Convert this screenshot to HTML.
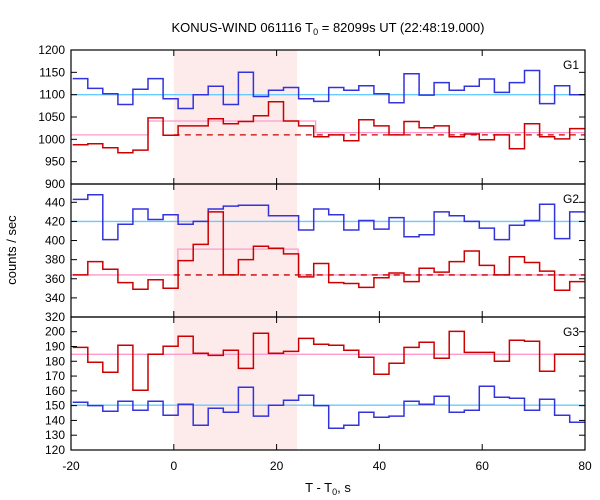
<!DOCTYPE html>
<html><head><meta charset="utf-8"><style>
body{margin:0;background:#fff}
svg{display:block;font-family:"Liberation Sans",sans-serif}
</style></head><body>
<svg id="chart" width="600" height="500" viewBox="0 0 600 500" xmlns="http://www.w3.org/2000/svg">
<text x="328" y="32" font-size="13" text-anchor="middle">KONUS-WIND 061116 T<tspan font-size="9" dy="3">0</tspan><tspan dy="-3"> = 82099s UT (22:48:19.000)</tspan></text>
<text transform="translate(16,250) rotate(-90)" font-size="13" text-anchor="middle">counts / sec</text>
<text x="328" y="492" font-size="13" text-anchor="middle">T - T<tspan font-size="9" dy="3">0</tspan><tspan dy="-3">, s</tspan></text>
</svg>
<script>
const binStart=-19.67, binWidth=2.93;
const xTicks=[-20,0,20,40,60,80];
const g1Blue=[1136,1114,1102,1078,1112,1136,1091,1069,1100,1119,1078,1150,1096,1110,1116,1091,1085,1116,1110,1120,1102,1082,1147,1099,1127,1110,1119,1135,1105,1127,1154,1080,1120,1100];
const g1Red=[988,990,981,970,976,1048,1009,1030,1030,1046,1035,1040,1053,1084,1041,1030,1006,1010,997,1044,1030,1010,1040,1026,1030,1006,1012,999,1010,979,1035,1006,1001,1024];
const g2Blue=[443,448,401,417,433,422,427,417,420,433,436,437,437,426,426,411,433,427,411,421,412,424,404,406,430,426,420,413,401,416,421,438,402,430];
const g2Red=[364,378,370,356,349,359,350,379,396,430,364,380,394,392,386,362,376,356,355,351,361,366,357,371,367,378,389,374,364,383,377,368,348,357];
const g3Red=[189.4,179.3,172.6,190.8,160.4,184.7,190.1,196.9,185.4,184,187.4,175.2,198.9,185.4,186.7,195.5,191.5,190.8,187.4,182.7,171.2,178.6,189.4,192.8,182,200.2,186,186,180,194.2,193.5,173.2,184.7,184.7];
const g3Blue=[152.3,150,146.2,153,146.9,153,143.5,151,136.8,148.3,145.5,162.4,142.9,150.3,153.6,157,150,134.7,136.8,145.5,142.2,142.9,153,151,156.4,145.5,146.9,163.1,155.7,155,146.9,154.3,143.5,138.8];
const g1Ticks=[900,950,1000,1050,1100,1150,1200];
const g2Ticks=[320,340,360,380,400,420,440];
const g3Ticks=[120,130,140,150,160,170,180,190,200];
const bgLevels=[1100,420,150.3];
const pinkG1=[[-20,1010],[-5,1041],[27.6,1015]];
const pinkG2=[[-20,364],[0.8,391],[24.2,364]];
const pinkG3=[[-20,184.7]];
const dashLevels=[1010,364];
const shade=[0,24];

const svg=document.getElementById('chart');
const NS='http://www.w3.org/2000/svg';
const L=71,R=585;
const X=t=>L+(t+20)*(R-L)/100;
function mk(tag,attrs){const e=document.createElementNS(NS,tag);for(const k in attrs)e.setAttribute(k,attrs[k]);svg.appendChild(e);return e;}
const panels=[
 {top:50,bot:184,v0:1200,y0:50,v1:900,y1:184,ticks:g1Ticks,blue:g1Blue,red:g1Red,pink:pinkG1,dash:dashLevels[0],bg:bgLevels[0],label:'G1'},
 {top:184,bot:317,v0:440,y0:202.3,v1:320,y1:317,ticks:g2Ticks,blue:g2Blue,red:g2Red,pink:pinkG2,dash:dashLevels[1],bg:bgLevels[1],label:'G2'},
 {top:317,bot:450,v0:200,y0:331.7,v1:120,y1:450,ticks:g3Ticks,blue:g3Blue,red:g3Red,pink:pinkG3,dash:null,bg:bgLevels[2],label:'G3'}
];
const sh=mk('rect',{x:X(shade[0]),y:50,width:X(shade[1])-X(shade[0]),height:400,fill:'#fdebeb'});


function steps(arr,Y){let d='';arr.forEach((v,i)=>{const a=Math.max(L,X(binStart+i*binWidth)),b=Math.min(R,X(binStart+(i+1)*binWidth));d+=(i?'L':'M')+a.toFixed(1)+','+Y(v).toFixed(1)+'L'+b.toFixed(1)+','+Y(v).toFixed(1);});return d;}
panels.forEach((p,pi)=>{
 const Y=v=>p.y0+(v-p.v0)*(p.y1-p.y0)/(p.v1-p.v0);
 const cl=mk('clipPath',{id:'c'+pi});
 const cr=document.createElementNS(NS,'rect');cr.setAttribute('x',L);cr.setAttribute('y',p.top);cr.setAttribute('width',R-L);cr.setAttribute('height',p.bot-p.top);cl.appendChild(cr);
 const g=mk('g',{'clip-path':'url(#c'+pi+')'});
 
 
 function add(tag,attrs,name){const e=document.createElementNS(NS,tag);for(const k in attrs)e.setAttribute(k,attrs[k]);g.appendChild(e);return e;}
 add('line',{x1:L,x2:R,y1:Y(p.bg),y2:Y(p.bg),stroke:'#66ccff','stroke-width':1.3},'background-level-'+p.label.toLowerCase());
 let pd='';p.pink.forEach((s,i)=>{const nx=i+1<p.pink.length?p.pink[i+1][0]:80;pd+=(i?'L':'M')+X(s[0])+','+Y(s[1])+'L'+X(nx)+','+Y(s[1]);});
 add('path',{d:pd,fill:'none',stroke:'#ff99cc','stroke-width':1.3},'red-fit-level-'+p.label.toLowerCase());
 if(p.dash!==null)add('line',{x1:X(0),x2:R,y1:Y(p.dash),y2:Y(p.dash),stroke:'#cc0000','stroke-width':1.3,'stroke-dasharray':'6,5'},'red-background-dashed-'+p.label.toLowerCase());
 add('path',{d:steps(p.blue,Y),fill:'none',stroke:'#3333dd','stroke-width':1.5},'blue-series-'+p.label.toLowerCase());
 add('path',{d:steps(p.red,Y),fill:'none',stroke:'#cc0000','stroke-width':1.5},'red-series-'+p.label.toLowerCase());
 p.ticks.forEach(v=>{const y=Y(v);
  mk('line',{x1:L,x2:L+6,y1:y,y2:y,stroke:'#000'});mk('line',{x1:R-6,x2:R,y1:y,y2:y,stroke:'#000'});
  const t=mk('text',{x:L-6,y:y+4,'font-size':12,'text-anchor':'end'});t.textContent=v;
  
  });
 xTicks.forEach(v=>{const x=X(v);mk('line',{x1:x,x2:x,y1:p.top,y2:p.top+6,stroke:'#000'});mk('line',{x1:x,x2:x,y1:p.bot-6,y2:p.bot,stroke:'#000'});});
 const lb=mk('text',{x:579,y:p.top+19,'font-size':12,'text-anchor':'end'});lb.textContent=p.label;
 
 
 const br=mk('rect',{x:L,y:p.top,width:R-L,height:p.bot-p.top,fill:'none',stroke:'#000','stroke-width':1.2});
 
 
});
xTicks.forEach(v=>{const t=mk('text',{x:X(v),y:470,'font-size':12,'text-anchor':'middle'});t.textContent=v;
 
 });
</script>
</body></html>
